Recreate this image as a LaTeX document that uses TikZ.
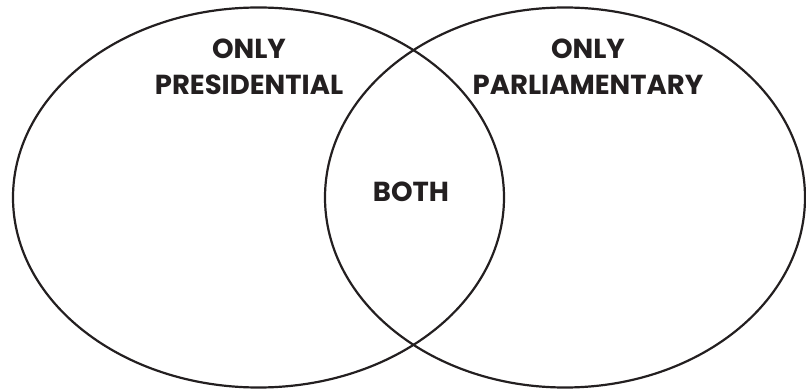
\documentclass[tikz,border=0pt]{standalone}
\usepackage{fontspec}
\setmainfont{Poppins}
\definecolor{ink}{HTML}{231F20}
\begin{document}
\begin{tikzpicture}[x=1pt,y=-1pt,
  setring/.style={draw=ink,line width=2.2pt},
  lbl/.style={text=ink,font=\fontsize{27.5}{36}\selectfont\bfseries,align=center,anchor=base,inner sep=0pt}]
\useasboundingbox (0,0) rectangle (806,390);
\draw[setring] (258.5,197.5) ellipse [x radius=245.5, y radius=190];
\draw[setring] (565,197.5) ellipse [x radius=240, y radius=190];
\node[lbl] (pres) at (249,95) {ONLY\\PRESIDENTIAL};
\node[lbl] (parl) at (588,95) {ONLY\\PARLIAMENTARY};
\node[lbl] (both) at (411,202) {BOTH};
\end{tikzpicture}
\end{document}
